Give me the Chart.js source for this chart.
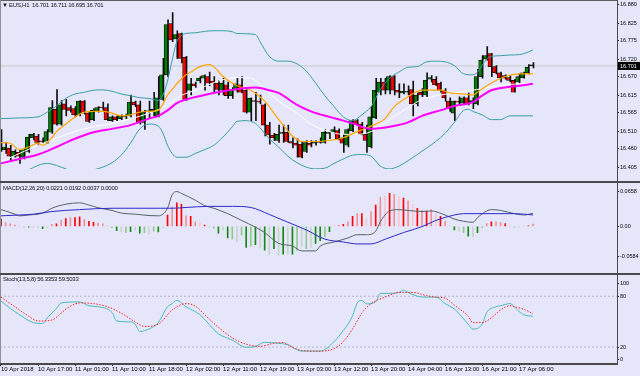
<!DOCTYPE html>
<html>
<head>
<meta charset="utf-8">
<title>EUS,H1</title>
<script src="https://cdn.jsdelivr.net/npm/chart.js@4.4.1/dist/chart.umd.min.js"></script>
<style>
  html, body { margin: 0; padding: 0; background: #e6e6fa; }
  #wrap { position: relative; width: 640px; height: 376px; overflow: hidden; background: #e6e6fa;
          font-family: "Liberation Sans", Arial, sans-serif; }
  .pane { position: absolute; left: 0; }
  .rule { position: absolute; background: #4a4a4a; }
  .cap { position: absolute; font-size: 6px; line-height: 6px; color: #111; white-space: pre; letter-spacing: -0.25px; }
</style>
</head>
<body>
<div id="wrap">
  <canvas id="priceChart" class="pane" width="640" height="181" style="top:0"></canvas>
  <canvas id="macdChart" class="pane" width="640" height="90" style="top:183px"></canvas>
  <canvas id="stochChart" class="pane" width="640" height="101" style="top:275px"></canvas>

  <div class="rule" style="left:0;top:0;width:618px;height:1px;background:#606060"></div>
  <div class="rule" style="left:0;top:0;width:1px;height:364px;background:#909090"></div>
  <div class="rule" style="left:617px;top:0;width:1px;height:364px"></div>
  <div class="rule" style="left:0;top:181px;width:640px;height:2px"></div>
  <div class="rule" style="left:0;top:273px;width:640px;height:2px"></div>
  <div class="rule" style="left:0;top:363px;width:618px;height:1.5px"></div>

  <div class="cap" id="capPrice" style="left:2px;top:2px"></div>
  <div class="cap" id="capMacd" style="left:3px;top:185px"></div>
  <div class="cap" id="capStoch" style="left:3px;top:276px"></div>
</div>

<script>
// ---- candles (H1), index 0 = first visible bar ----
const candleOpen = [16.501,16.456,16.461,16.437,16.448,16.434,16.451,16.491,16.496,16.480,
  16.477,16.507,16.574,16.531,16.590,16.579,16.576,16.558,16.598,16.563,
  16.544,16.568,16.579,16.579,16.541,16.552,16.547,16.552,16.555,16.595,
  16.587,16.536,16.568,16.568,16.555,16.603,16.675,16.825,16.780,16.796,
  16.726,16.630,16.649,16.657,16.665,16.670,16.657,16.651,16.630,16.646,
  16.614,16.630,16.646,16.630,16.566,16.598,16.598,16.587,16.528,16.499,
  16.483,16.504,16.507,16.480,16.475,16.472,16.451,16.475,16.475,16.477,
  16.477,16.504,16.507,16.512,16.491,16.469,16.512,16.541,16.531,16.501,
  16.464,16.549,16.624,16.654,16.630,16.670,16.630,16.622,16.624,16.632,
  16.590,16.624,16.616,16.662,16.662,16.651,16.630,16.598,16.563,16.598,
  16.592,16.608,16.595,16.590,16.670,16.721,16.737,16.699,16.681,16.673,
  16.667,16.659,16.654,16.667,16.681,16.701];
const candleHigh = [16.515,16.477,16.469,16.456,16.456,16.461,16.501,16.504,16.501,16.491,
  16.515,16.600,16.632,16.600,16.603,16.584,16.582,16.600,16.600,16.568,
  16.576,16.582,16.595,16.590,16.555,16.555,16.558,16.560,16.616,16.598,
  16.598,16.571,16.598,16.624,16.670,16.723,16.836,16.857,16.804,16.797,
  16.729,16.665,16.654,16.670,16.675,16.683,16.670,16.659,16.665,16.654,
  16.638,16.667,16.670,16.632,16.608,16.624,16.616,16.590,16.536,16.504,
  16.528,16.528,16.528,16.491,16.488,16.477,16.483,16.483,16.483,16.491,
  16.515,16.507,16.523,16.517,16.501,16.517,16.544,16.544,16.536,16.528,
  16.582,16.665,16.665,16.665,16.673,16.673,16.649,16.649,16.643,16.657,
  16.622,16.635,16.681,16.673,16.670,16.654,16.635,16.608,16.598,16.611,
  16.611,16.622,16.608,16.691,16.731,16.758,16.738,16.702,16.683,16.675,
  16.673,16.662,16.678,16.683,16.705,16.711];
const candleLow = [16.451,16.445,16.421,16.434,16.416,16.429,16.448,16.485,16.469,16.475,
  16.475,16.504,16.528,16.528,16.555,16.566,16.552,16.555,16.560,16.536,
  16.541,16.566,16.571,16.541,16.539,16.541,16.544,16.547,16.552,16.582,
  16.531,16.515,16.549,16.555,16.552,16.600,16.670,16.772,16.723,16.710,
  16.600,16.616,16.638,16.651,16.630,16.643,16.624,16.616,16.616,16.606,
  16.606,16.624,16.622,16.563,16.541,16.541,16.590,16.496,16.472,16.483,
  16.477,16.477,16.477,16.461,16.434,16.432,16.448,16.464,16.469,16.475,
  16.475,16.488,16.504,16.485,16.448,16.464,16.509,16.528,16.499,16.448,
  16.461,16.547,16.616,16.619,16.619,16.616,16.608,16.619,16.616,16.555,
  16.584,16.611,16.611,16.654,16.643,16.624,16.598,16.568,16.541,16.590,
  16.590,16.587,16.576,16.587,16.665,16.718,16.670,16.678,16.654,16.662,
  16.654,16.624,16.651,16.665,16.678,16.695];
const candleClose = [16.456,16.464,16.437,16.451,16.437,16.456,16.493,16.501,16.477,16.479,
  16.509,16.579,16.531,16.587,16.574,16.571,16.558,16.598,16.563,16.539,
  16.571,16.579,16.578,16.544,16.552,16.544,16.555,16.553,16.595,16.587,
  16.536,16.566,16.567,16.574,16.608,16.675,16.822,16.777,16.793,16.723,
  16.603,16.649,16.643,16.665,16.673,16.651,16.651,16.632,16.651,16.614,
  16.632,16.649,16.624,16.566,16.606,16.597,16.595,16.528,16.499,16.491,
  16.501,16.505,16.480,16.475,16.469,16.434,16.477,16.469,16.477,16.478,
  16.507,16.505,16.515,16.488,16.475,16.515,16.541,16.531,16.501,16.483,
  16.552,16.630,16.654,16.630,16.670,16.630,16.624,16.627,16.625,16.590,
  16.616,16.616,16.659,16.667,16.646,16.630,16.608,16.576,16.598,16.595,
  16.608,16.590,16.600,16.670,16.718,16.731,16.699,16.681,16.667,16.665,
  16.659,16.624,16.670,16.681,16.697,16.701];

// ---- overlays on the price pane (bar index, value) ----
const bbUpperIdx = [0,4,8,10,12,14,16,18,20,22,24,26,28,30,32,34,35,36,37,38,39,40,42,44,46,48,50,51,55,56,
  58,60,62,64,66,68,70,72,74,76,77,78,80,82,84,86,88,90,92,94,96,98,100,102,103,104,105,106,108,110,112,114,115];
const bbUpper = [16.547,16.549,16.552,16.566,16.584,16.606,16.619,16.624,16.630,16.631,
  16.627,16.619,16.614,16.608,16.606,16.600,16.616,16.657,16.718,16.772,
  16.790,16.796,16.798,16.802,16.804,16.804,16.801,16.796,16.793,16.772,
  16.729,16.715,16.715,16.707,16.686,16.651,16.614,16.582,16.552,16.541,
  16.547,16.558,16.582,16.632,16.665,16.683,16.697,16.699,16.713,16.715,
  16.713,16.702,16.678,16.675,16.683,16.702,16.721,16.729,16.731,16.733,
  16.734,16.742,16.748];
const bbLowerIdx = [0,4,6,8,10,12,14,16,18,20,22,24,26,28,30,32,34,35,36,37,38,40,42,44,46,48,50,51,53,55,
  56,58,60,62,64,66,68,70,72,74,76,78,80,82,84,86,88,90,92,94,96,98,100,101,102,104,106,108,110,112,115];
const bbLower = [16.362,16.381,16.397,16.410,16.416,16.410,16.400,16.392,16.392,16.397,
  16.405,16.418,16.440,16.475,16.517,16.531,16.525,16.504,16.469,16.445,
  16.434,16.434,16.445,16.456,16.469,16.493,16.523,16.539,16.541,16.533,
  16.520,16.488,16.464,16.437,16.418,16.405,16.400,16.402,16.416,16.429,
  16.440,16.442,16.437,16.408,16.400,16.408,16.424,16.442,16.461,16.480,
  16.504,16.536,16.571,16.574,16.568,16.558,16.544,16.544,16.555,16.555,16.555];
const slowMaIdx = [0,4,8,12,16,20,24,28,32,34,36,38,40,44,48,52,55,58,60,64,67,71,74,76,80,84,88,91,95,98,102,104,106,110,112,115];
const slowMa = [16.416,16.429,16.442,16.464,16.488,16.507,16.517,16.528,16.547,16.555,
  16.571,16.592,16.603,16.616,16.627,16.635,16.638,16.630,16.622,16.587,
  16.568,16.552,16.541,16.533,16.517,16.523,16.536,16.555,16.571,16.584,
  16.595,16.614,16.630,16.640,16.643,16.649];
const fastMaIdx = [0,2,4,6,8,9,11,12,14,16,18,20,22,24,26,28,30,32,34,35,36,37,38,40,41,43,45,46,48,51,
  54,57,59,61,63,65,68,71,74,77,80,83,85,88,91,95,97,100,102,103,105,109,112,115];
const fastMa = [16.477,16.475,16.456,16.464,16.475,16.469,16.491,16.509,16.531,16.552,
  16.566,16.568,16.568,16.563,16.555,16.558,16.566,16.568,16.571,16.590,
  16.616,16.632,16.649,16.675,16.683,16.699,16.705,16.699,16.670,16.643,
  16.630,16.598,16.563,16.528,16.496,16.480,16.480,16.483,16.491,16.509,
  16.525,16.547,16.582,16.611,16.630,16.630,16.622,16.619,16.616,16.624,
  16.643,16.670,16.678,16.678];
const midMaIdx = [0,10,18,25,32,36,38,43,47,51,54,57,60,64,67,71,74,77,80,84,88,91,95,98,102,106,109,115];
const midMa = [16.421,16.480,16.517,16.536,16.563,16.587,16.608,16.635,16.657,16.667,
  16.665,16.635,16.598,16.563,16.531,16.509,16.501,16.501,16.509,16.544,
  16.579,16.603,16.616,16.622,16.630,16.640,16.646,16.651];

// ---- MACD(12,26,20) ----
const macdHist = [0.0123,0.0064,0.0041,0.0023,0.0009,-0.0023,-0.0014,-0.0014,-0.0023,-0.0041,
  -0.0023,0.0032,0.0041,0.0100,0.0132,0.0146,0.0146,0.0159,0.0114,0.0086,
  0.0068,0.0055,0.0041,0.0003,-0.0023,-0.0073,-0.0095,-0.0105,-0.0091,-0.0059,
  -0.0114,-0.0105,-0.0127,-0.0082,-0.0095,-0.0023,0.0191,0.0327,0.0396,0.0373,
  0.0177,0.0168,0.0077,0.0055,0.0023,-0.0014,-0.0036,-0.0114,-0.0059,-0.0196,
  -0.0218,-0.0264,-0.0150,-0.0355,-0.0332,-0.0309,-0.0368,-0.0400,-0.0477,-0.0377,
  -0.0491,-0.0468,-0.0468,-0.0468,-0.0400,-0.0332,-0.0377,-0.0355,-0.0286,-0.0241,
  -0.0173,-0.0091,0.0018,0.0018,0.0032,0.0077,0.0168,0.0214,0.0214,0.0123,
  0.0250,0.0359,0.0487,0.0509,0.0555,0.0541,0.0500,0.0477,0.0432,0.0373,
  0.0305,0.0268,0.0259,0.0282,0.0214,0.0168,0.0086,0.0002,-0.0059,-0.0082,
  -0.0105,-0.0164,-0.0173,-0.0105,-0.0023,0.0045,0.0077,0.0077,0.0064,0.0045,
  0.0018,-0.0014,-0.0005,0.0005,0.0009,0.0037];
// bar tone: d dark red, r red, p pink, q pale pink, g green, l light green, w grey
const macdTone = 'dpppqwgwwg' + 'wprprprrpr' + 'rppwlgwlgw' + 'glwlgwrprr' + 'prpqrwlgwg' +
  'lwlglgwgwg' + 'wgwglwlwgg' + 'lgqprprprq' + 'prpqrpqrpq' + 'rprpqrpwgw' + 'lgwglprppr' + 'qlwqrp';
const macdLineIdx = [0,1,3,4,6,9,11,14,17,19,21,24,26,29,32,34,36,37,38,39,42,44,46,49,52,55,57,60,63,65,
  68,69,72,75,77,79,81,82,84,86,88,91,93,96,98,100,102,103,105,106,108,111,113,115];
const macdLine = [0.0282,0.0259,0.0205,0.0177,0.0191,0.0223,0.0305,0.0373,0.0396,0.0359,
  0.0314,0.0268,0.0223,0.0205,0.0182,0.0177,0.0305,0.0532,0.0587,0.0555,
  0.0441,0.0350,0.0305,0.0214,0.0100,-0.0014,-0.0105,-0.0286,-0.0332,-0.0414,
  -0.0414,-0.0332,-0.0264,-0.0196,-0.0141,-0.0141,-0.0082,0.0077,0.0259,0.0282,
  0.0268,0.0250,0.0259,0.0191,0.0123,0.0086,0.0068,0.0146,0.0259,0.0282,
  0.0268,0.0214,0.0191,0.0221];
const macdSignalIdx = [0,4,7,11,17,24,37,40,45,50,54,58,62,66,70,74,77,80,83,87,91,94,98,100,111,115];
const macdSignal = [0.0177,0.0191,0.0205,0.0250,0.0282,0.0305,0.0305,0.0318,0.0337,0.0337,
  0.0318,0.0200,0.0070,-0.0060,-0.0215,-0.0264,-0.0296,-0.0296,-0.0218,-0.0105,
  -0.0005,0.0100,0.0191,0.0214,0.0214,0.0192];

// ---- Stoch(13,5,8) ----
const stochMainIdx = [0,2,4,7,9,10,12,13,17,19,21,24,25,28,29,30,32,34,36,37,38,40,43,47,50,53,55,57,60,62,
  65,69,72,74,75,76,77,78,79,81,82,84,86,87,88,90,92,94,96,98,101,102,104,105,107,108,110,112,113,115];
const stochMain = [74.4,65.7,58.2,48.9,47.8,54.5,65.7,72.1,73.3,68.8,
  67.6,60.9,50.8,49.7,47.0,38.4,41.3,48.9,67.6,71.3,
  75.1,67.6,58.2,35.7,28.3,19.7,20.8,25.6,24.5,22.7,
  15.2,15.2,26.4,39.5,47.0,57.0,72.0,75.0,71.0,73.3,
  83.4,83.4,84.5,87.1,84.5,80.0,78.9,79.0,71.3,65.0,
  47.0,41.3,47.0,60.9,67.6,68.8,71.3,62.0,58.2,56.3353];
const stochSignalIdx = [0,3,6,8,11,13,15,17,20,23,26,29,31,34,37,40,42,44,47,50,53,56,59,61,63,65,69,72,74,76,
  78,80,83,86,89,92,94,96,98,101,102,104,106,108,110,111,113,115];
const stochSignal = [78.9,67.6,56.4,50.8,51.9,60.1,68.3,72.1,71.3,67.6,
  60.1,49.7,44.4,47.0,63.8,71.3,68.3,58.2,43.3,30.9,
  23.4,20.8,24.5,25.3,19.7,16.0,15.2,18.2,26.4,41.3,
  60.1,71.3,78.9,84.5,84.5,80.7,78.9,77.8,69.4,56.4,
  48.9,48.9,54.5,63.8,68.8,67.6,64.6,59.5033];
const stochLevels = [80, 20];

// ---- axis labels ----
const priceTicks = ['16.880','16.825','16.775','16.720','16.670','16.615','16.565','16.510','16.460','16.405'];
const macdTicks = ['0.0658', '0.00', '-0.0584'];
const stochTicks = ['100', '80', '20', '0'];
const timeIdx = [0,8,16,24,32,40,48,56,64,72,80,88,96,104,112];
const timeLabels = ['10 Apr 2018','10 Apr 17:00','11 Apr 01:00','11 Apr 10:00','11 Apr 18:00','12 Apr 02:00',
  '12 Apr 11:00','12 Apr 19:00','13 Apr 03:00','13 Apr 12:00','13 Apr 20:00','14 Apr 04:00',
  '16 Apr 13:00','16 Apr 21:00','17 Apr 06:00'];

const SYMBOL = 'EUS,H1';
const X_MIN = -0.216, X_MAX = 133.16;
const last = candleClose.length - 1;

Chart.defaults.font.family = '"Liberation Sans", Arial, sans-serif';
Chart.defaults.color = '#000';

const pts = (xs, ys) => xs.map((x, k) => ({ x, y: ys[k] }));
const across = (v) => [{ x: X_MIN, y: v }, { x: X_MAX, y: v }];

function line(data, color, width, order, extra) {
    return Object.assign({
        type: 'line', data, borderColor: color, borderWidth: width, pointRadius: 0,
        fill: false, cubicInterpolationMode: 'monotone', order
    }, extra || {});
}

function timeAxis(show) {
    return {
        type: 'linear', min: X_MIN, max: X_MAX, offset: false, display: show,
        afterFit: (axis) => { axis.height = 12; },
        afterBuildTicks: (axis) => { axis.ticks = timeIdx.map(v => ({ value: v })); },
        ticks: {
            autoSkip: false, maxRotation: 0, minRotation: 0, align: 'start', padding: 0,
            font: { size: 6 }, callback: (v, i) => timeLabels[i]
        },
        grid: { drawOnChartArea: false, drawTicks: true, tickLength: 2, color: '#000' },
        border: { display: false }
    };
}

// right value axis; labels at the pane edges are pulled inside like the terminal does
function valueAxis(min, max, values, labels, insetPx) {
    return {
        position: 'right', min, max,
        afterFit: (axis) => { axis.width = 23; },
        afterBuildTicks: (axis) => {
            const m = insetPx ? (max - min) * insetPx / axis.height : 0;
            axis.ticks = values.map(v => ({ value: Math.min(max - m, Math.max(min + m, v)) }));
        },
        ticks: { autoSkip: false, padding: 1, font: { size: 5.5 }, callback: (v, i) => labels[i] },
        grid: { drawOnChartArea: false, drawTicks: true, tickLength: 2, color: '#000' },
        border: { display: false }
    };
}

const baseOptions = {
    responsive: false,
    animation: false,
    events: [],
    plugins: { legend: { display: false }, tooltip: { enabled: false } }
};

// black tag with the last price on the axis
const priceTag = {
    id: 'priceTag',
    afterDraw(chart) {
        const ctx = chart.ctx;
        const y = chart.scales.y.getPixelForValue(candleClose[last]);
        const left = chart.chartArea.right + 1;
        ctx.save();
        ctx.fillStyle = '#000';
        ctx.fillRect(left, y - 4, chart.width - left, 8);
        ctx.fillStyle = '#fff';
        ctx.font = '5.5px "Liberation Sans", Arial, sans-serif';
        ctx.textBaseline = 'middle';
        ctx.fillText(candleClose[last].toFixed(3), left + 2, y + 0.5);
        ctx.restore();
    }
};

const bars = candleOpen.map((o, i) => i);
const bodyColors = bars.map(i => candleClose[i] > candleOpen[i] ? '#008000'
    : (candleClose[i] < candleOpen[i] ? '#ff0000' : '#000'));

new Chart(document.getElementById('priceChart'), {
    type: 'bar',
    data: {
        datasets: [
            line(across(candleClose[last]), '#c8c8cc', 1, 9, { cubicInterpolationMode: 'default' }),
            {
                type: 'bar', data: bars.map(i => ({ x: i, y: [candleLow[i], candleHigh[i]] })),
                backgroundColor: '#111', barThickness: 1, order: 6
            },
            {
                type: 'bar', data: bars.map(i => ({ x: i, y: [candleOpen[i], candleClose[i]] })),
                backgroundColor: bodyColors, borderColor: '#000', borderWidth: 0.7,
                borderSkipped: false, barThickness: 3.4, minBarLength: 1, order: 5
            },
            line(pts(bbUpperIdx, bbUpper), '#3a9fa6', 1, 3),
            line(pts(bbLowerIdx, bbLower), '#3a9fa6', 1, 3),
            line(pts(midMaIdx, midMa), '#ffffff', 1, 2),
            line(pts(slowMaIdx, slowMa), '#ff00ff', 2, 1),
            line(pts(fastMaIdx, fastMa), '#ffa500', 1.2, 1)
        ]
    },
    options: {
        ...baseOptions,
        layout: { padding: { top: 1 } },
        scales: {
            x: timeAxis(false),
            y: valueAxis(16.3996, 16.8813, priceTicks.map(Number), priceTicks, 0)
        }
    },
    plugins: [priceTag]
});

const toneColor = { d: '#8b1a1a', r: '#ff0000', p: '#f09098', q: '#f4c8d0', g: '#128a12', l: '#90c890', w: '#c8d2ce' };

new Chart(document.getElementById('macdChart'), {
    type: 'bar',
    data: {
        datasets: [
            {
                type: 'bar', data: pts(bars, macdHist),
                backgroundColor: bars.map(i => toneColor[macdTone[i]]), barThickness: 1, order: 5
            },
            line(pts(macdLineIdx, macdLine), '#556464', 1, 2),
            line(pts(macdSignalIdx, macdSignal), '#2b2bc8', 1, 1)
        ]
    },
    options: {
        ...baseOptions,
        scales: {
            x: timeAxis(false),
            y: valueAxis(-0.0584, 0.0658, macdTicks.map(Number), macdTicks, 4.5)
        }
    }
});

new Chart(document.getElementById('stochChart'), {
    type: 'line',
    data: {
        datasets: [
            ...stochLevels.map(v => line(across(v), '#b4b4c4', 1, 9, { borderDash: [2, 2], cubicInterpolationMode: 'default' })),
            line(pts(stochMainIdx, stochMain), '#48bcbc', 1, 2),
            line(pts(stochSignalIdx, stochSignal), '#ff2020', 1, 1, { borderDash: [1.5, 1.5] })
        ]
    },
    options: {
        ...baseOptions,
        scales: {
            x: timeAxis(true),
            y: valueAxis(0, 100, stochTicks.map(Number), stochTicks, 4.5)
        }
    }
});

// pane captions
document.getElementById('capPrice').textContent = '\u25BC ' + SYMBOL + '  ' +
    [candleOpen[last], candleHigh[last], candleLow[last], candleClose[last]].map(v => v.toFixed(3)).join(' ');
document.getElementById('capMacd').textContent = 'MACD(12,26,20) ' +
    [macdLine[macdLine.length - 1], macdSignal[macdSignal.length - 1], macdHist[last], 0].map(v => v.toFixed(4)).join(' ');
document.getElementById('capStoch').textContent = 'Stoch(13,5,8) ' +
    [stochMain[stochMain.length - 1], stochSignal[stochSignal.length - 1]].map(v => v.toFixed(4)).join(' ');
</script>
</body>
</html>
